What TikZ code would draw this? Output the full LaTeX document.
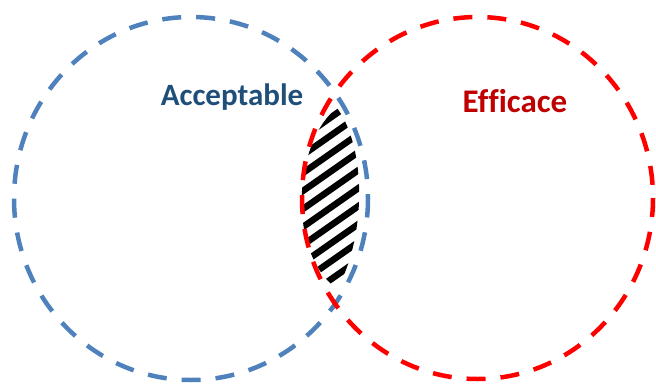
\documentclass[tikz,border=0pt]{standalone}
\usepackage{fontspec}
\setmainfont{Carlito}
\usepackage{xcolor}
\definecolor{setblue}{HTML}{4F81BD}
\definecolor{setred}{HTML}{FF0000}
\definecolor{labelblue}{HTML}{1F4E79}
\definecolor{labelred}{HTML}{C00000}
\usepackage{tikz}

\begin{document}
\begin{tikzpicture}[x=1pt, y=-1pt,
  setline/.style={line width=4.5pt, dash pattern=on 19pt off 15pt},
  setlabel/.style={font=\bfseries\fontsize{31}{36}\selectfont\addfontfeature{Ligatures=NoCommon}, inner sep=0pt}]

  \useasboundingbox (0,0) rectangle (656,383);

  % kesisim (taranmis bolge)
  \begin{scope}
    \clip (337,108) .. controls (295,140) and (285,250) .. (337,289)
                    .. controls (365,240) and (368,150) .. (337,108);
    \foreach \k in {0,...,16} {
      \draw[line width=6.5pt] (270, 340-18*\k) -- ++(130,-91);
    }
  \end{scope}

  % kumeler
  \draw[setline, setblue] (191,198.5) ellipse [x radius=177, y radius=181.5];
  \draw[setline, setred] (477.5,198) ellipse [x radius=175.5, y radius=181];

  % etiketler
  \node[setlabel, text=labelblue] (acc) at (232,97) {Acceptable};
  \node[setlabel, text=labelred, font=\bfseries\fontsize{33}{38}\selectfont\addfontfeature{Ligatures=NoCommon}] (efc) at (515,101) {Efficace};

\end{tikzpicture}
\end{document}
